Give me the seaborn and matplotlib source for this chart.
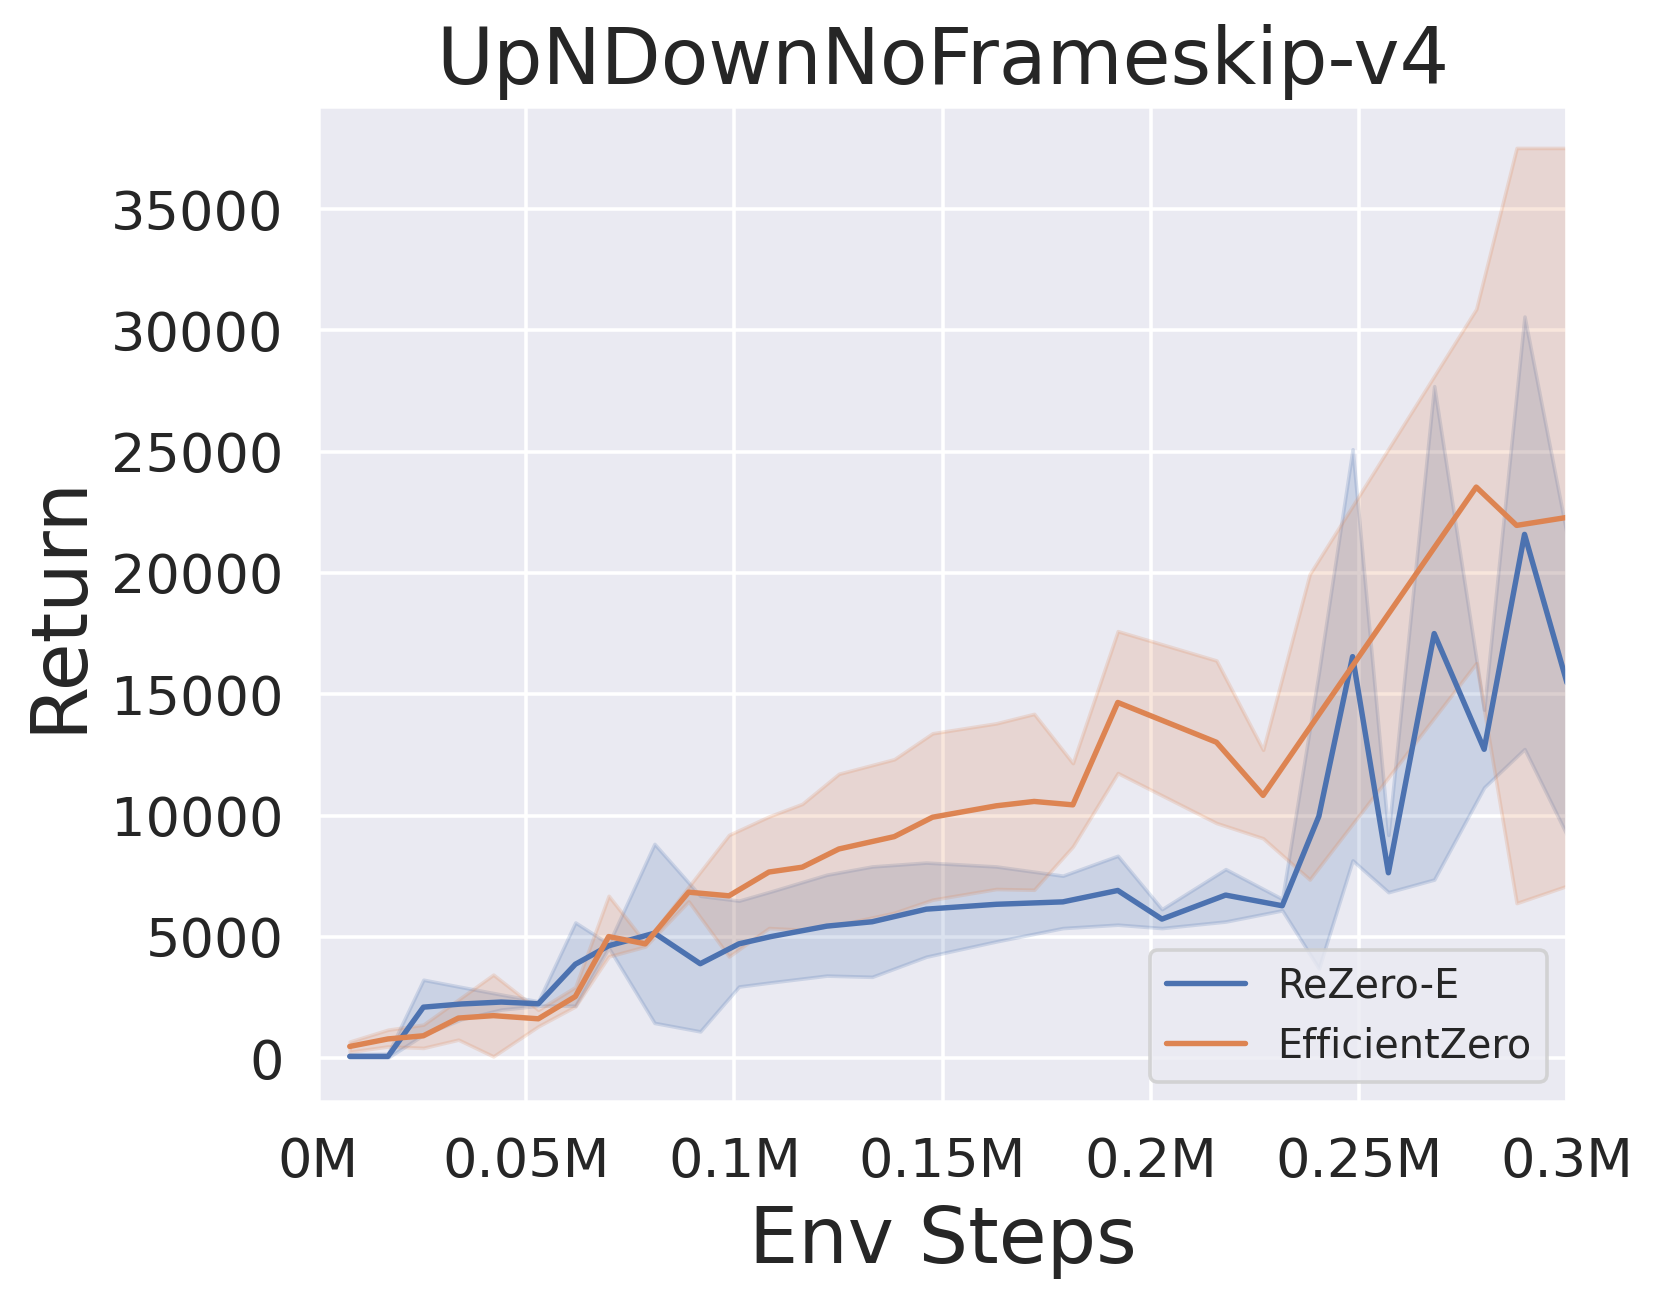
import numpy as np
import pandas as pd
import matplotlib
matplotlib.use("Agg")
import matplotlib.pyplot as plt
import seaborn as sns

# ---------------- data ----------------
title = "UpNDownNoFrameskip-v4"
x_label = "Env Steps"
y_label = "Return"

rezero_steps = [7600, 16800, 25300, 34400, 44000, 52900, 61800, 69800, 80800,
                91800, 101100, 108800, 122200, 133100, 146100, 162900, 178900,
                192100, 202700, 218000, 231600, 240400, 248500, 257100, 268100,
                280100, 289800, 300000]
rezero_mean = [70, 70, 2100, 2230, 2310, 2240, 3870, 4630, 5150,
               3890, 4710, 5010, 5440, 5620, 6140, 6340, 6440,
               6910, 5730, 6720, 6280, 9970, 16550, 7640, 17500,
               12730, 21590, 15470]
rezero_upper = [160, 180, 3230, 2930, 2620, 2340, 5590, 4710, 8830,
                6690, 6490, 6870, 7560, 7900, 8060, 7900, 7520,
                8340, 6140, 7790, 6560, 15900, 25100, 9200, 27700,
                14360, 30570, 21570]
rezero_lower = [20, 20, 960, 1600, 2000, 2160, 2160, 4550, 1450,
                1100, 2950, 3120, 3400, 3350, 4180, 4810, 5360,
                5500, 5360, 5630, 6090, 3700, 8150, 6840, 7360,
                11160, 12740, 9200]

ez_steps = [7600, 16800, 25300, 33700, 42100, 52900, 61800, 69800, 78600,
            89000, 98700, 108300, 116300, 125100, 138400, 147600, 162900,
            172000, 181300, 192100, 215800, 227000, 238200, 278200, 287900,
            300000]
ez_mean = [480, 790, 920, 1650, 1750, 1620, 2540, 5010, 4710,
           6840, 6690, 7670, 7870, 8620, 9130, 9930, 10400,
           10580, 10440, 14660, 13020, 10830, 13620, 23540, 21960,
           22290]
ez_upper = [680, 1170, 1380, 2410, 3440, 1990, 2930, 6690, 4760,
            7060, 9200, 9960, 10480, 11720, 12320, 13390, 13800,
            14190, 12160, 17600, 16390, 12710, 19950, 30880, 37520,
            37520]
ez_lower = [260, 480, 420, 760, 70, 1310, 2130, 4190, 4600,
            6460, 4190, 5360, 5290, 5500, 5990, 6530, 6970,
            6940, 8720, 11750, 9690, 9060, 7360, 16280, 6390,
            7100]

series_names = ["ReZero-E", "EfficientZero"]
x_ticks = [0, 50000, 100000, 150000, 200000, 250000, 300000]
x_tick_labels = ["0M", "0.05M", "0.1M", "0.15M", "0.2M", "0.25M", "0.3M"]
y_ticks = [0, 5000, 10000, 15000, 20000, 25000, 30000, 35000]

# ---------------- plotting ----------------
sns.set_theme(style="darkgrid")
plt.rcParams["font.family"] = ["DejaVu Sans"]

fig = plt.figure(figsize=(1661 / 260, 1302 / 260), dpi=260)
ax = fig.add_axes([0.1915, 0.1538, 0.7519, 0.7648])

palette = sns.color_palette("deep")

df_r = pd.DataFrame({"step": rezero_steps, "ret": rezero_mean})
df_e = pd.DataFrame({"step": ez_steps, "ret": ez_mean})

sns.lineplot(data=df_r, x="step", y="ret", ax=ax, color=palette[0],
             label=series_names[0], linewidth=1.5)
sns.lineplot(data=df_e, x="step", y="ret", ax=ax, color=palette[1],
             label=series_names[1], linewidth=1.5)

ax.fill_between(rezero_steps, rezero_lower, rezero_upper,
                color=palette[0], alpha=0.2, linewidth=1.0)
ax.fill_between(ez_steps, ez_lower, ez_upper,
                color=palette[1], alpha=0.2, linewidth=1.0)

ax.set_xlim(0, 300000)
ax.set_ylim(-1800, 39250)
ax.set_xticks(x_ticks)
ax.set_xticklabels(x_tick_labels)
ax.set_yticks(y_ticks)
ax.tick_params(axis="both", labelsize=15)

ax.set_title(title, fontsize=21.6)
ax.set_xlabel(x_label, fontsize=21.6)
ax.set_ylabel(y_label, fontsize=21.6)

ax.legend(loc="lower right", fontsize=11)

fig.savefig("out.png", dpi=260)
